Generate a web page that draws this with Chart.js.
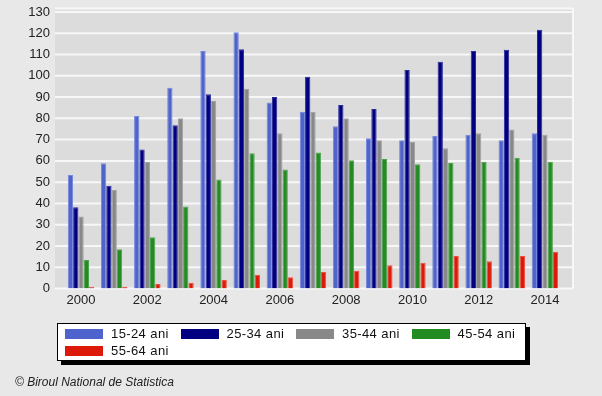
<!DOCTYPE html>
<html>
<head>
<meta charset="utf-8">
<script src="https://cdn.jsdelivr.net/npm/chart.js@4.4.1/dist/chart.umd.min.js"></script>
<style>
    body { margin: 0; background: #e8e8e8; font-family: "Liberation Sans", Arial, sans-serif; }
    #wrap { position: relative; width: 602px; height: 396px; }
    #chart { position: absolute; left: 0; top: 0; }
    #legend {
        position: absolute; left: 57px; top: 323px; width: 467px; height: 36px;
        background: #fff; border: 1px solid #000; box-shadow: 4px 4px 0 #000;
    }
    .item { position: absolute; height: 12px; font-size: 13px; letter-spacing: 0.4px; color: #111; line-height: 12px; white-space: nowrap; }
    .swatch { position: absolute; left: 0; top: 1px; width: 38px; height: 10px; }
    .item span { position: absolute; left: 46px; top: 0; }
    #credit { position: absolute; left: 15px; top: 375px; font-size: 12px; font-style: italic; color: #222; }
</style>
</head>
<body>
<div id="wrap">
    <canvas id="chart" width="602" height="396"></canvas>
    <div id="legend"></div>
    <div id="credit">© Biroul National de Statistica</div>
</div>
<script>
const years = ['2000', '2001', '2002', '2003', '2004', '2005', '2006', '2007', '2008', '2009', '2010', '2011', '2012', '2013', '2014'];
const seriesNames = ['15-24 ani', '25-34 ani', '35-44 ani', '45-54 ani', '55-64 ani'];
const seriesColors = ['#4f63cc', '#000080', '#888888', '#228b22', '#dd1a0a'];
const seriesEdges = ['#7586dc', '#2a2a9a', '#a2a2a2', '#4ea24e', '#ec5040'];

const age15_24 = [53.4, 58.9, 81.1, 94.4, 111.7, 120.5, 87.5, 83.1, 76.3, 70.6, 69.7, 71.7, 72.3, 69.7, 73.0];
const age25_34 = [38.2, 48.3, 65.3, 76.7, 91.3, 112.5, 90.0, 99.6, 86.3, 84.4, 102.7, 106.6, 111.7, 112.3, 121.6];
const age35_44 = [33.8, 46.3, 59.6, 80.0, 88.2, 93.9, 73.0, 83.1, 80.0, 69.7, 69.0, 65.9, 73.0, 74.8, 72.3];
const age45_54 = [13.4, 18.4, 24.1, 38.6, 51.3, 63.6, 56.0, 64.0, 60.3, 60.9, 58.4, 59.0, 59.6, 61.5, 59.6];
const age55_64 = [0.8, 0.8, 2.1, 2.7, 4.0, 6.5, 5.3, 7.8, 8.4, 10.9, 12.1, 15.3, 12.8, 15.3, 17.3];

const seriesValues = [age15_24, age25_34, age35_44, age45_54, age55_64];

// grey plot box with white horizontal lines, a bit wider than the category area
const plotBackground = {
    id: 'plotBackground',
    beforeDraw(chart) {
        const { ctx, chartArea, scales } = chart;
        const y = scales.y;
        const left = chartArea.left - 9.5;
        const right = chartArea.right + 11.5;
        const top = chartArea.top - 3.5;
        ctx.save();
        ctx.fillStyle = '#dcdcdc';
        ctx.fillRect(left, top, right - left, chartArea.bottom - top);
        ctx.strokeStyle = '#f7f7f7';
        ctx.lineWidth = 2;
        y.ticks.forEach(t => {
            const py = y.getPixelForValue(t.value);
            ctx.beginPath();
            ctx.moveTo(left, py);
            ctx.lineTo(right, py);
            ctx.stroke();
        });
        ctx.beginPath();
        ctx.moveTo(left, top);
        ctx.lineTo(right, top);
        ctx.lineTo(right, chartArea.bottom);
        ctx.stroke();
        ctx.restore();
    }
};

const ctx = document.getElementById('chart').getContext('2d');
const chart = new Chart(ctx, {
    type: 'bar',
    data: {
        labels: years,
        datasets: seriesNames.map((name, i) => ({
            label: name,
            data: seriesValues[i],
            backgroundColor: seriesColors[i],
            borderColor: seriesEdges[i],
            borderWidth: { left: 1, right: 1, top: 1, bottom: 0 },
            categoryPercentage: 0.8,
            barPercentage: 1.0
        }))
    },
    options: {
        responsive: false,
        animation: false,
        layout: {
            padding: { top: 12, right: 40.5, bottom: 87.5, left: 0 }
        },
        plugins: {
            legend: { display: false },
            tooltip: { enabled: false }
        },
        scales: {
            x: {
                grid: { display: false, drawTicks: false },
                border: { display: false },
                afterFit: (scale) => { scale.height = 20; },
                ticks: {
                    autoSkip: false,
                    maxRotation: 0,
                    padding: 4,
                    color: '#222',
                    font: { family: 'Liberation Sans', size: 13 },
                    callback: (value, index) => index % 2 === 0 ? years[index] : ''
                }
            },
            y: {
                min: 0,
                max: 130,
                grid: { display: false, drawTicks: true, tickLength: 10.5 },
                border: { display: false },
                afterFit: (scale) => { scale.width = 64.5; },
                ticks: {
                    stepSize: 10,
                    padding: 4,
                    color: '#222',
                    font: { family: 'Liberation Sans', size: 13 }
                }
            }
        }
    },
    plugins: [plotBackground]
});

// legend box, built from the chart's datasets
const legend = document.getElementById('legend');
chart.data.datasets.forEach((ds, i) => {
    const item = document.createElement('div');
    item.className = 'item';
    item.style.left = (7 + (i % 4) * 115.5) + 'px';
    item.style.top = (4 + Math.floor(i / 4) * 16.7) + 'px';
    item.innerHTML = `<div class="swatch" style="background:${ds.backgroundColor}"></div><span>${ds.label}</span>`;
    legend.appendChild(item);
});
</script>
</body>
</html>
